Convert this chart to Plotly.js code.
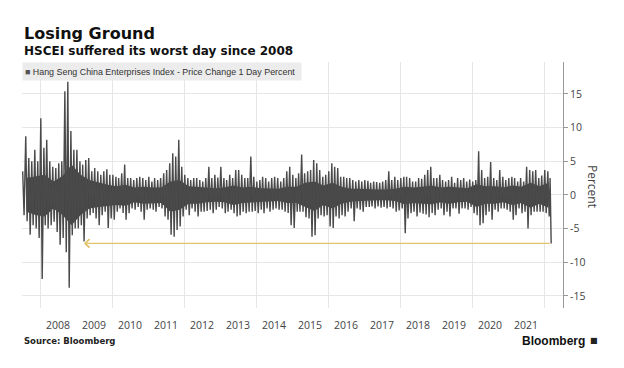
<!DOCTYPE html>
<html>
<head>
<meta charset="utf-8">
<script src="https://cdn.plot.ly/plotly-3.0.1.min.js"></script>
<style>
html,body{margin:0;padding:0;background:#fff;}
#chart{width:624px;height:368px;}
</style>
</head>
<body>
<div id="chart"></div>
<script>
// ---------- DATA ----------
const seriesName = 'Hang Seng China Enterprises Index - Price Change 1 Day Percent';
const firstMonth = [2007, 7];   // monthly envelope starts July 2007

// monthly highest daily change (percent), Jul 2007 .. Feb 2022
const monthlyHigh = [
  3.5, 8.7, 5.5, 5.0, 6.7, 5.0,                                   // 2007 Jul-Dec
  11.4, 7.0, 8.2, 5.0, 4.2, 4.0, 4.7, 5.0, 15.4, 16.8, 9.5, 6.7,   // 2008
  6.7, 5.0, 4.5, 5.2, 5.5, 3.5, 4.0, 3.5, 3.0, 3.5, 3.8, 3.0,      // 2009
  3.0, 2.7, 2.5, 3.2, 4.5, 2.5, 2.5, 2.2, 2.5, 2.7, 2.5, 2.2,      // 2010
  2.7, 2.0, 2.5, 2.2, 2.5, 3.2, 3.7, 4.7, 6.2, 5.7, 8.2, 4.2,      // 2011
  3.0, 2.5, 2.2, 2.5, 2.5, 2.2, 2.0, 2.5, 4.2, 2.5, 3.0, 2.6,      // 2012
  4.2, 2.5, 2.2, 3.0, 2.5, 3.7, 3.7, 3.0, 2.5, 2.5, 5.7, 2.7,      // 2013
  2.0, 2.2, 2.7, 2.5, 2.0, 2.5, 2.7, 2.5, 2.0, 2.5, 3.5, 4.2,      // 2014
  3.0, 2.5, 3.2, 6.0, 3.2, 3.5, 3.7, 5.2, 4.7, 3.7, 2.7, 3.0,      // 2015
  3.5, 4.7, 4.2, 4.0, 2.7, 2.7, 2.5, 2.5, 2.2, 2.0, 2.2, 2.0,      // 2016
  2.2, 2.1, 1.8, 2.0, 1.9, 1.8, 2.0, 2.2, 3.5, 2.2, 2.7, 2.2,      // 2017
  2.5, 2.7, 2.7, 2.5, 2.0, 2.0, 2.5, 2.4, 3.0, 3.7, 4.2, 2.5,      // 2018
  2.5, 3.0, 2.2, 2.0, 2.2, 2.7, 1.8, 2.5, 2.2, 2.5, 2.0, 2.3,      // 2019
  2.0, 2.2, 6.5, 3.7, 2.5, 2.7, 4.9, 2.5, 2.2, 3.7, 2.7, 2.2,      // 2020
  2.5, 2.7, 2.5, 2.0, 2.5, 2.0, 4.2, 3.7, 3.5, 3.7, 2.5, 2.9,      // 2021
  3.7, 3.5                                                        // 2022 Jan-Feb
];
// monthly lowest daily change (percent), Jul 2007 .. Feb 2022
const monthlyLow = [
  -3.0, -3.9, -5.9, -4.5, -5.0, -6.4,
  -12.5, -4.5, -5.0, -4.5, -4.0, -5.5, -7.4, -6.4, -8.5, -13.8, -6.0, -5.0,
  -5.0, -4.5, -6.9, -3.5, -3.0, -2.7, -3.5, -4.5, -3.0, -2.5, -4.9, -3.5,
  -3.7, -2.5, -2.0, -2.7, -3.7, -2.7, -2.0, -2.2, -1.8, -2.5, -3.7, -2.2,
  -2.0, -2.2, -2.5, -1.8, -2.0, -3.2, -3.7, -5.9, -6.2, -5.2, -4.7, -3.2,
  -2.2, -3.0, -2.0, -2.5, -3.2, -2.5, -2.5, -2.4, -2.2, -2.7, -2.2, -1.8,
  -2.0, -2.7, -2.5, -2.2, -2.7, -3.2, -3.0, -2.5, -2.7, -2.5, -2.5, -2.4,
  -2.7, -2.2, -2.7, -2.0, -2.5, -2.2, -2.0, -2.2, -2.2, -2.5, -2.7, -4.5,
  -4.9, -2.5, -2.5, -2.5, -3.3, -3.5, -6.2, -6.0, -3.5, -3.0, -3.2, -3.0,
  -4.7, -4.9, -3.2, -3.5, -3.0, -3.2, -2.5, -2.0, -3.9, -2.0, -2.2, -2.5,
  -1.8, -1.8, -1.7, -2.0, -1.7, -1.9, -1.8, -2.0, -1.8, -2.0, -2.5, -2.3,
  -2.0, -5.7, -3.5, -2.7, -2.5, -3.2, -2.6, -2.8, -2.9, -3.3, -2.7, -3.0,
  -2.2, -2.0, -3.0, -2.5, -3.2, -2.0, -2.0, -2.8, -2.0, -2.0, -2.2, -1.8,
  -2.7, -3.0, -4.5, -4.2, -3.0, -2.5, -3.7, -2.2, -2.5, -2.0, -2.0, -2.2,
  -2.5, -3.7, -3.0, -2.0, -2.7, -2.5, -5.0, -3.0, -2.5, -2.5, -2.5, -2.5,
  -2.7, -3.2
];
// last days of the series (March 2022, ending with the worst day)
const finalDates  = ['2022-03-03', '2022-03-09', '2022-03-14'];
const finalValues = [2.5, -3.4, -7.2];

// quarterly dense core of the daily moves, 2007Q3 .. 2022Q1
const coreUpper = [
  2.5, 2.8,
  3.0, 2.0, 2.8, 4.5,   3.0, 2.2, 1.8, 1.5,   1.3, 1.5, 1.1, 1.2,
  1.1, 1.1, 2.0, 2.2,   1.3, 1.2, 1.0, 1.0,   1.1, 1.4, 1.1, 1.2,
  1.0, 0.9, 0.9, 1.2,   1.2, 1.8, 2.0, 1.4,   1.8, 1.2, 0.9, 0.9,
  0.8, 0.8, 0.8, 0.9,   1.2, 1.1, 1.2, 1.4,   1.1, 1.2, 1.1, 1.0,
  1.6, 1.3, 1.3, 1.1,   1.4, 1.2, 1.8, 1.3,   1.8
];
const coreLower = [
  -2.5, -3.0,
  -3.2, -2.0, -3.0, -4.5,   -3.0, -2.0, -1.8, -1.6,   -1.5, -1.6, -1.1, -1.3,
  -1.2, -1.2, -2.5, -2.2,   -1.3, -1.3, -1.1, -1.0,   -1.1, -1.5, -1.2, -1.1,
  -1.1, -0.9, -0.9, -1.2,   -1.2, -1.8, -2.4, -1.5,   -2.0, -1.3, -1.0, -0.9,
  -0.8, -0.8, -0.8, -0.9,   -1.4, -1.2, -1.3, -1.4,   -1.1, -1.3, -1.1, -1.0,
  -1.8, -1.3, -1.3, -1.1,   -1.5, -1.2, -1.9, -1.3,   -1.9
];

const yearLabels = ['2008','2009','2010','2011','2012','2013','2014',
                    '2015','2016','2017','2018','2019','2020','2021'];
const yTicks = [-15, -10, -5, 0, 5, 10, 15];
const arrowTail = {date: '2022-03-14', value: -7.2};
const arrowHead = {date: '2009-03-20', value: -7.2};

// ---------- BUILD ----------
function monthDate(k, day) {
  const idx = firstMonth[1] - 1 + k;
  const y = firstMonth[0] + Math.floor(idx / 12);
  const m = idx % 12 + 1;
  return y + '-' + String(m).padStart(2, '0') + '-' + String(day).padStart(2, '0');
}

const spikeX = [], spikeY = [];
for (let k = 0; k < monthlyHigh.length; k++) {
  spikeX.push(monthDate(k, 8));  spikeY.push(monthlyHigh[k]);
  spikeX.push(monthDate(k, 22)); spikeY.push(monthlyLow[k]);
}
for (let i = 0; i < finalDates.length; i++) { spikeX.push(finalDates[i]); spikeY.push(finalValues[i]); }

const coreX = coreUpper.map((_, q) => monthDate(3 * q + 1, 15));

const traces = [
  {type: 'scatter', mode: 'lines', x: coreX, y: coreUpper, line: {width: 0, color: '#444'}, hoverinfo: 'skip'},
  {type: 'scatter', mode: 'lines', x: coreX, y: coreLower, fill: 'tonexty', fillcolor: '#444444',
   line: {width: 0, color: '#444'}, hoverinfo: 'skip'},
  {type: 'scatter', mode: 'lines', x: spikeX, y: spikeY, name: seriesName,
   line: {color: '#4a4a4a', width: 1.4}, hoverinfo: 'skip'}
];

// pixel helpers for paper-positioned texts
const L = 22, R = 563, T = 62, B = 308;
const px = v => (v - L) / (R - L);
const py = v => (B - v) / (B - T);

const tickFont = {family: 'Open Sans, sans-serif', size: 10.5, color: '#444'};

const layout = {
  width: 624, height: 368,
  margin: {l: L, r: 624 - R, t: T, b: 368 - B, pad: 0},
  paper_bgcolor: '#ffffff', plot_bgcolor: '#ffffff',
  showlegend: false,
  xaxis: {
    type: 'date', range: ['2007-07-01', '2022-07-12'],
    tickvals: yearLabels.map(y => y + '-07-01'), ticktext: yearLabels,
    ticks: '', showgrid: false, zeroline: false, showline: false,
    ticklabelstandoff: 9,
    tickfont: tickFont,
    minor: {tick0: '2008-01-01', dtick: 'M24', showgrid: true, gridcolor: '#e6e6e6', gridwidth: 1, ticks: ''},
    fixedrange: true
  },
  yaxis: {
    side: 'right', range: [-16.8, 19.75],
    tickvals: yTicks, ticktext: yTicks.map(String),
    ticks: 'outside', ticklen: 4, tickcolor: '#999', tickwidth: 1,
    showline: true, linecolor: '#999', linewidth: 1,
    showgrid: true, gridcolor: '#e6e6e6', gridwidth: 1, zeroline: false,
    tickfont: tickFont,
    fixedrange: true
  },
  annotations: [
    {xref: 'paper', yref: 'paper', x: px(22), y: py(33.5), xanchor: 'left', yanchor: 'middle',
     text: '<b>Losing Ground</b>', showarrow: false,
     font: {family: 'DejaVu Sans, sans-serif', size: 16, color: '#111'}},
    {xref: 'paper', yref: 'paper', x: px(22), y: py(51), xanchor: 'left', yanchor: 'middle',
     text: '<b>HSCEI suffered its worst day since 2008</b>', showarrow: false,
     font: {family: 'DejaVu Sans, sans-serif', size: 12, color: '#111'}},
    {xref: 'paper', yref: 'paper', x: 0, y: 1, xanchor: 'left', yanchor: 'top',
     text: '<span style="color:#555">■</span> ' + seriesName, showarrow: false,
     align: 'left', width: 274, height: 13, borderpad: 2, bgcolor: '#ececec',
     font: {family: 'Liberation Sans, Arial, sans-serif', size: 8.9, color: '#333'}},
    {xref: 'paper', yref: 'paper', x: px(593), y: py(186), xanchor: 'center', yanchor: 'middle',
     text: 'Percent', textangle: 90, showarrow: false,
     font: {family: 'Open Sans, sans-serif', size: 12, color: '#444'}},
    {xref: 'paper', yref: 'paper', x: px(22), y: py(341), xanchor: 'left', yanchor: 'middle',
     text: '<b>Source: Bloomberg</b>', showarrow: false,
     font: {family: 'DejaVu Sans, sans-serif', size: 8.5, color: '#222'}},
    {xref: 'paper', yref: 'paper', x: px(587), y: py(341), xanchor: 'right', yanchor: 'middle',
     text: '<b>Bloomberg</b>', showarrow: false,
     font: {family: 'Liberation Sans, Arial, sans-serif', size: 12, color: '#111'}},
    {xref: 'paper', yref: 'paper', x: px(594), y: py(340), xanchor: 'center', yanchor: 'middle',
     text: '■', showarrow: false,
     font: {family: 'DejaVu Sans, sans-serif', size: 8, color: '#222'}},
    {xref: 'x', yref: 'y', x: arrowHead.date, y: arrowHead.value,
     axref: 'x', ayref: 'y', ax: arrowTail.date, ay: arrowTail.value,
     text: '', showarrow: true, arrowhead: 4, arrowsize: 1.5, arrowwidth: 1.1,
     arrowcolor: '#e2c36c', standoff: 0, startstandoff: 0}
  ]
};

Plotly.newPlot('chart', traces, layout, {staticPlot: true, displayModeBar: false});
</script>
</body>
</html>
